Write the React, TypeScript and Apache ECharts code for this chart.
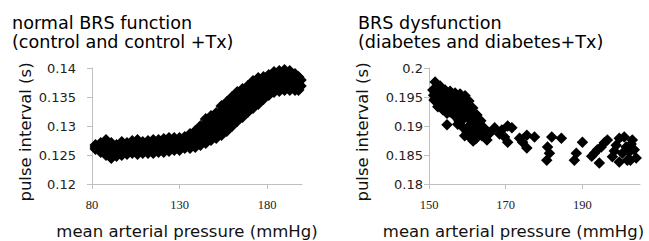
import React, { useEffect, useRef } from "react";
import * as echarts from "echarts";

// Left panel: normal BRS function (dense band of diamonds), one column per pressure value
const normalPressure = [
  82, 85, 88, 91, 94, 97, 100, 103, 106, 109, 112, 115, 118, 121, 124, 127, 130, 133, 136, 139,
  142, 145, 148, 151, 154, 157, 160, 163, 166, 169, 172, 175, 178, 181, 184, 187, 190, 193, 196, 198, 199.3,
];
const normalIntervals = [
  [0.12672, 0.12638, 0.12603],
  [0.12707, 0.12629, 0.12552],
  [0.12759, 0.12672, 0.12586, 0.125],
  [0.12707, 0.12621, 0.12534, 0.12448],
  [0.12672, 0.12578, 0.12483],
  [0.12724, 0.12638, 0.12569, 0.125],
  [0.12707, 0.12612, 0.12517],
  [0.12741, 0.12672, 0.12603, 0.12534],
  [0.12759, 0.12672, 0.12595, 0.12517],
  [0.12724, 0.12629, 0.12534],
  [0.12741, 0.12672, 0.12603, 0.12534],
  [0.12759, 0.12681, 0.12603, 0.12534],
  [0.12759, 0.1269, 0.12621, 0.12552],
  [0.12776, 0.12698, 0.12621, 0.12552],
  [0.12793, 0.12716, 0.12638, 0.12569],
  [0.12793, 0.12724, 0.12655, 0.12586],
  [0.12793, 0.12724, 0.12655, 0.12586],
  [0.1281, 0.12741, 0.12681, 0.12621],
  [0.12862, 0.12776, 0.12698, 0.12621],
  [0.12914, 0.12845, 0.12776, 0.12707, 0.12638],
  [0.13, 0.12914, 0.12836, 0.12759, 0.12672],
  [0.13121, 0.13034, 0.12948, 0.12862, 0.12784, 0.12707],
  [0.13172, 0.13086, 0.13, 0.12914, 0.12836, 0.12759],
  [0.13224, 0.13138, 0.13052, 0.12966, 0.12879, 0.12793],
  [0.13345, 0.13259, 0.13172, 0.13086, 0.13, 0.12922, 0.12845],
  [0.13414, 0.13328, 0.13241, 0.13155, 0.13078, 0.13, 0.12914],
  [0.135, 0.13414, 0.13328, 0.13241, 0.13164, 0.13086, 0.13],
  [0.13586, 0.135, 0.13414, 0.13328, 0.1325, 0.13172, 0.13086],
  [0.13638, 0.13552, 0.13466, 0.13388, 0.1331, 0.13233, 0.13155],
  [0.1369, 0.13603, 0.13517, 0.13414, 0.13328, 0.13241],
  [0.13776, 0.1369, 0.13603, 0.13526, 0.13448, 0.13379, 0.1331],
  [0.13828, 0.13741, 0.13655, 0.13569, 0.13474, 0.13379],
  [0.13845, 0.13759, 0.13681, 0.13603, 0.13534, 0.13466],
  [0.13879, 0.13793, 0.13707, 0.13621, 0.13534],
  [0.13931, 0.13845, 0.13759, 0.13672, 0.13586],
  [0.13948, 0.13862, 0.13776, 0.1369, 0.13603],
  [0.13966, 0.13879, 0.13793, 0.13707, 0.13621],
  [0.13948, 0.13862, 0.13784, 0.13707, 0.13621],
  [0.13897, 0.13828, 0.13759, 0.1369, 0.13621],
  [0.13845, 0.13767, 0.1369, 0.13621],
  [0.13793, 0.1369],
];

// Right panel: BRS dysfunction (individual diamonds)
const diabetesPressure = [
  151.6, 152.9, 154.2, 155.5, 156.8, 158.1, 159.4, 160.4, 161.4, 162.5, 163.5, 164.3,
  151.0, 152.1, 153.4, 154.7, 156.0, 157.3, 158.6, 159.6, 160.7, 161.7, 162.7, 163.8,
  151.3, 152.3, 153.6, 155.5, 156.8, 157.8, 158.8, 159.9, 160.9, 162.2,
  152.5, 153.8, 155.1, 156.4, 157.7, 159.0, 160.1, 161.1, 162.1, 163.1,
  151.2, 152.7, 154.0, 155.4, 156.7, 158.0, 159.1, 160.3, 161.3, 162.4,
  154.7, 157.5, 159.3, 161.5, 154.7, 164.8, 165.6,
  165.1, 165.8, 167.1, 168.4, 169.0, 170.5, 171.6, 169.7, 170.5,
  173.6, 174.4, 175.5, 177.5, 175.5,
  180.7, 181.4, 180.9, 182.0, 184.5,
  187.9, 188.4, 190.0,
  192.4, 193.1, 193.9, 194.9, 195.7, 196.5, 194.4,
  197.8, 198.3, 198.8, 199.6, 200.9, 201.4, 200.4, 202.2, 202.7, 203.0, 203.5, 204.0, 201.7, 199.6, 202.5,
];
const diabetesInterval = [
  0.1976, 0.1969, 0.1962, 0.196, 0.1957, 0.1955, 0.1952, 0.1943, 0.1931, 0.1919, 0.1909, 0.1897,
  0.1962, 0.1953, 0.1948, 0.1945, 0.1941, 0.1938, 0.1931, 0.1921, 0.191, 0.1898, 0.1888, 0.1883,
  0.1945, 0.1933, 0.1928, 0.1924, 0.1917, 0.1909, 0.1898, 0.1888, 0.1879, 0.1878,
  0.196, 0.1955, 0.1952, 0.1949, 0.1946, 0.1941, 0.1932, 0.192, 0.1909, 0.1898,
  0.1953, 0.1941, 0.1937, 0.1934, 0.1929, 0.1922, 0.1913, 0.1899, 0.1888, 0.1883,
  0.1922, 0.1903, 0.1883, 0.1874, 0.1902, 0.1883, 0.1886,
  0.1876, 0.1888, 0.1897, 0.1886, 0.1893, 0.19, 0.1897, 0.1881, 0.1872,
  0.1879, 0.1872, 0.1884, 0.1881, 0.1862,
  0.1841, 0.1853, 0.1864, 0.1881, 0.1879,
  0.1841, 0.1853, 0.1872,
  0.1848, 0.1853, 0.1859, 0.1864, 0.1871, 0.1876, 0.1836,
  0.1847, 0.1857, 0.1867, 0.1879, 0.1881, 0.1864, 0.1853, 0.1855, 0.1869, 0.1876, 0.1859, 0.1845, 0.1841, 0.1838, 0.1841,
];

const leftXTicks = [80, 130, 180];
const rightXTicks = [150, 170, 190];

const FONT = "DejaVu Sans";
const AXIS_GRAY = "#bfbfbf";

export default function App() {
  const ref = useRef<HTMLDivElement>(null);

  useEffect(() => {
    if (!ref.current) return;
    const chart = echarts.init(ref.current, null, { renderer: "svg" });

    const normalData = normalPressure.flatMap((x, i) => normalIntervals[i].map((y) => [x, y]));
    const diabetesData = diabetesPressure.map((x, i) => [x, diabetesInterval[i]]);

    const xAxisBase = (min: number, max: number, ticks: number[], shift: number) => ({
      type: "value",
      min,
      max,
      splitLine: { show: false },
      axisLine: { show: true, onZero: false, lineStyle: { color: AXIS_GRAY, width: 1 } },
      axisTick: { show: true, length: 5, customValues: ticks, lineStyle: { color: AXIS_GRAY } },
      axisLabel: {
        customValues: ticks,
        fontFamily: "Liberation Serif",
        fontSize: 12.5,
        color: "#222",
        margin: 14,
      },
      name: "mean arterial pressure (mmHg)",
      nameLocation: "middle",
      nameGap: 39,
      nameTextStyle: { fontFamily: FONT, fontSize: 16.5, color: "#111", padding: [0, shift, 0, 0] },
    });

    const yAxisBase = (min: number, max: number, labelMargin: number) => ({
      type: "value",
      min,
      max,
      interval: 0.005,
      splitLine: { show: false },
      axisLine: { show: true, lineStyle: { color: AXIS_GRAY, width: 1 } },
      axisTick: { show: true, length: 5, lineStyle: { color: AXIS_GRAY } },
      axisLabel: { fontFamily: FONT, fontSize: 13, color: "#222", margin: labelMargin },
      name: "pulse interval (s)",
      nameLocation: "middle",
      nameRotate: 90,
      nameGap: 58,
      nameTextStyle: { fontFamily: FONT, fontSize: 16.5, color: "#111", padding: [0, 12, 0, 0] },
    });

    const titleStyle = { fontFamily: FONT, fontSize: 17.6, lineHeight: 19, fontWeight: "normal", color: "#000" };

    chart.setOption({
      animation: false,
      backgroundColor: "#ffffff",
      title: [
        { text: "normal BRS function\n(control and control +Tx)", left: 12, top: 13, padding: 0, textStyle: titleStyle },
        { text: "BRS dysfunction\n(diabetes and diabetes+Tx)", left: 358, top: 13, padding: 0, textStyle: titleStyle },
      ],
      grid: [
        { left: 92, top: 68, width: 210, height: 116 },
        { left: 429, top: 68, width: 211, height: 116 },
      ],
      xAxis: [
        { ...xAxisBase(80, 200, leftXTicks, 20), gridIndex: 0 },
        { ...xAxisBase(150, 205, rightXTicks, 42), gridIndex: 1 },
      ],
      yAxis: [
        { ...yAxisBase(0.12, 0.14, 16), gridIndex: 0 },
        { ...yAxisBase(0.18, 0.2, 6), gridIndex: 1 },
      ],
      series: [
        {
          type: "scatter",
          xAxisIndex: 0,
          yAxisIndex: 0,
          symbol: "diamond",
          symbolSize: 12,
          itemStyle: { color: "#000", opacity: 1 },
          data: normalData,
        },
        {
          type: "scatter",
          xAxisIndex: 1,
          yAxisIndex: 1,
          symbol: "diamond",
          symbolSize: 11.5,
          itemStyle: { color: "#000", opacity: 1 },
          data: diabetesData,
        },
      ],
    });

    return () => chart.dispose();
  }, []);

  return (
    <div
      ref={ref}
      style={{ position: "absolute", left: 0, top: 0, width: 649, height: 241, background: "#fff" }}
    />
  );
}
